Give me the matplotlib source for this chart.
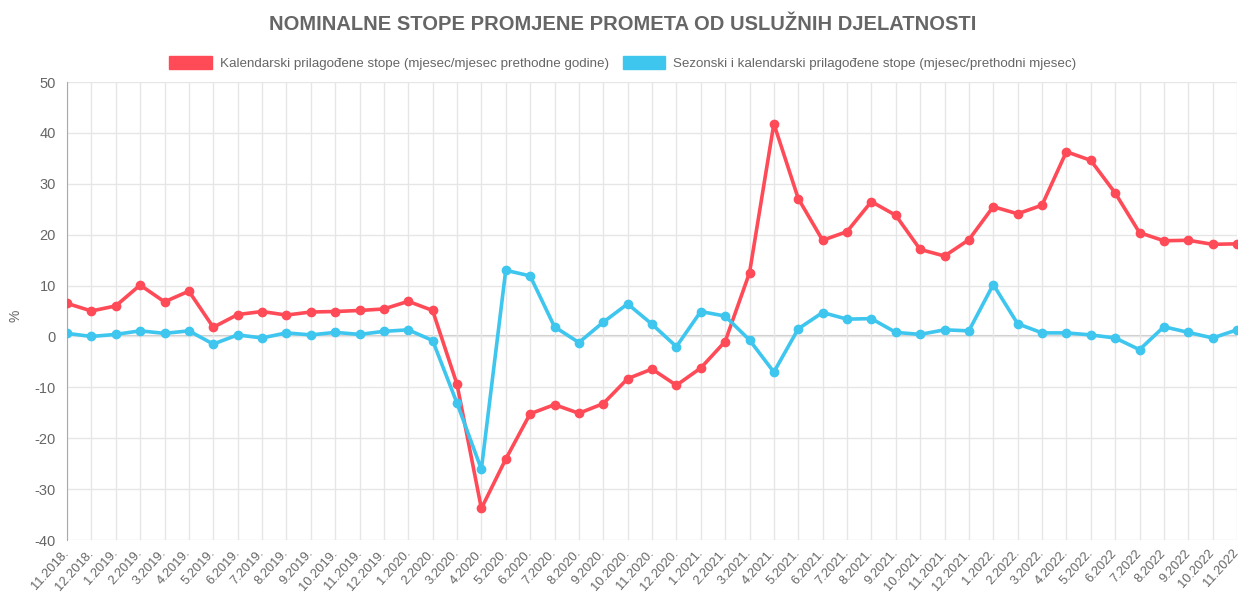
import numpy as np
import matplotlib.pyplot as plt
from matplotlib.patches import Patch

plt.rcParams['font.family'] = ['Liberation Sans', 'DejaVu Sans']
plt.rcParams['axes.unicode_minus'] = False

months = ['11.2018.', '12.2018.', '1.2019.', '2.2019.', '3.2019.', '4.2019.', '5.2019.',
          '6.2019.', '7.2019.', '8.2019.', '9.2019.', '10.2019.', '11.2019.', '12.2019.',
          '1.2020.', '2.2020.', '3.2020.', '4.2020.', '5.2020.', '6.2020.', '7.2020.',
          '8.2020.', '9.2020.', '10.2020.', '11.2020.', '12.2020.', '1.2021.', '2.2021.',
          '3.2021.', '4.2021.', '5.2021.', '6.2021.', '7.2021.', '8.2021.', '9.2021.',
          '10.2021.', '11.2021.', '12.2021.', '1.2022.', '2.2022.', '3.2022.', '4.2022.',
          '5.2022.', '6.2022', '7.2022', '8.2022', '9.2022', '10.2022', '11.2022']

# kalendarski prilagodene stope (mjesec/mjesec prethodne godine)
kalendarski = [6.5, 5.0, 6.0, 10.1, 6.8, 8.9, 1.8, 4.3, 4.9, 4.2, 4.8, 4.9, 5.1, 5.4,
               6.9, 5.1, -9.4, -33.8, -24.1, -15.2, -13.4, -15.1, -13.2, -8.3, -6.4,
               -9.6, -6.2, -1.0, 12.5, 41.8, 27.1, 18.9, 20.6, 26.5, 23.8, 17.1, 15.8,
               19.0, 25.5, 24.1, 25.8, 36.3, 34.6, 28.2, 20.4, 18.8, 18.9, 18.1, 18.2]

# sezonski i kalendarski prilagodene stope (mjesec/prethodni mjesec)
sezonski = [0.6, 0.0, 0.4, 1.1, 0.6, 1.1, -1.5, 0.3, -0.3, 0.7, 0.3, 0.8, 0.4, 1.0,
            1.3, -0.8, -13.1, -26.1, 13.0, 11.9, 1.9, -1.2, 2.8, 6.4, 2.4, -2.0, 4.9,
            4.0, -0.7, -7.0, 1.5, 4.7, 3.4, 3.5, 0.8, 0.4, 1.3, 1.1, 10.2, 2.5, 0.7,
            0.7, 0.3, -0.3, -2.6, 1.9, 0.8, -0.3, 1.3]

red = '#ff4b57'
blue = '#3ec6ef'
grey = '#666666'

fig = plt.figure(figsize=(12.46, 5.93), dpi=100)
ax = fig.add_axes([67 / 1246, 53 / 593, 1170 / 1246, 458 / 593])

x = np.arange(len(months))
ax.plot(x, kalendarski, color=red, lw=2.6, marker='o', ms=6, zorder=3)
ax.plot(x, sezonski, color=blue, lw=2.6, marker='o', ms=6, zorder=3)

ax.set_xlim(0, len(months) - 1)
ax.set_ylim(-40, 50)
ax.set_yticks(range(-40, 51, 10))
ax.set_xticks(x)
ax.set_xticklabels(months, rotation=48, ha='right', va='center', rotation_mode='anchor')
ax.tick_params(colors=grey, length=0)
ax.tick_params(axis='y', labelsize=10.5, pad=8)
ax.tick_params(axis='x', labelsize=9.3, pad=8)
ax.grid(True, color='#e6e6e6', lw=1)
ax.axhline(0, color='#cccccc', lw=1.5, zorder=1)
for s in ['top', 'right', 'bottom']:
    ax.spines[s].set_visible(False)
ax.spines['left'].set_color('#aaaaaa')
ax.set_ylabel('%', color=grey, fontsize=10, va='center')
ax.yaxis.set_label_coords(-0.044, 0.49)

fig.suptitle('NOMINALNE STOPE PROMJENE PROMETA OD USLUŽNIH DJELATNOSTI',
             x=0.5, y=0.975, fontsize=14.5, fontweight='bold', color=grey)

handles = [Patch(facecolor=red, edgecolor=red),
           Patch(facecolor=blue, edgecolor=blue)]
fig.legend(handles, ['Kalendarski prilagođene stope (mjesec/mjesec prethodne godine)',
                     'Sezonski i kalendarski prilagođene stope (mjesec/prethodni mjesec)'],
           loc='center', bbox_to_anchor=(0.5, 1 - 63 / 593), ncol=2, frameon=False,
           fontsize=9.6, labelcolor=grey, handlelength=3.2, handleheight=1.1,
           columnspacing=1.0, handletextpad=0.6)

fig.savefig('out.png', dpi=100)
